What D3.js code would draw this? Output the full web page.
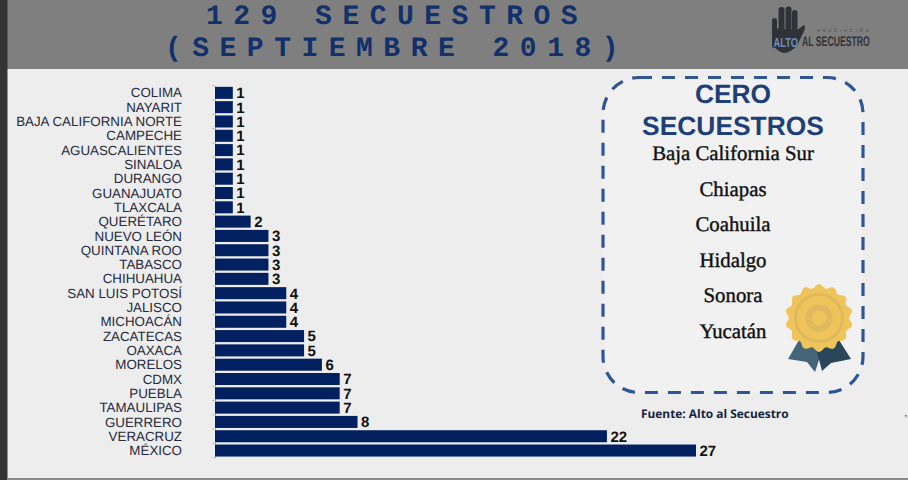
<!DOCTYPE html>
<html><head><meta charset="utf-8">
<script src="https://cdn.jsdelivr.net/npm/d3@7"></script>
<style>html,body{margin:0;padding:0;background:#ededed;overflow:hidden}svg{display:block}text{text-rendering:geometricPrecision}</style>
</head><body><svg id="c" width="908" height="480"></svg>
<script>
const estados = ["COLIMA","NAYARIT","BAJA CALIFORNIA NORTE","CAMPECHE","AGUASCALIENTES","SINALOA","DURANGO","GUANAJUATO","TLAXCALA","QUERÉTARO","NUEVO LEÓN","QUINTANA ROO","TABASCO","CHIHUAHUA","SAN LUIS POTOSÍ","JALISCO","MICHOACÁN","ZACATECAS","OAXACA","MORELOS","CDMX","PUEBLA","TAMAULIPAS","GUERRERO","VERACRUZ","MÉXICO"];
const secuestros = [1,1,1,1,1,1,1,1,1,2,3,3,3,3,4,4,4,5,5,6,7,7,7,8,22,27];
const ceroSecuestros = ["Baja California Sur","Chiapas","Coahuila","Hidalgo","Sonora","Yucatán"];
const titulo = ["129 SECUESTROS","(SEPTIEMBRE 2018)"];

const svg = d3.select("#c");
svg.append("rect").attr("width",908).attr("height",480).attr("fill","#ededed");
svg.append("rect").attr("x",0).attr("y",0).attr("width",908).attr("height",69).attr("fill","#7f7f7f");
svg.append("rect").attr("x",0).attr("y",0).attr("width",7.5).attr("height",480).attr("fill","#333333");
svg.append("rect").attr("x",7.5).attr("y",478).attr("width",901).attr("height",2).attr("fill","#8a8a8a");

// title
svg.selectAll("text.t").data(titulo).join("text").attr("class","t")
  .attr("x",397).attr("y",(d,i)=>i?56:24).attr("text-anchor","middle")
  .attr("font-family","'Liberation Mono','DejaVu Sans Mono',monospace").attr("font-weight",700)
  .attr("font-size",28).attr("letter-spacing",10.5).attr("fill","#12316b").text(d=>d);

// scales
const x = d3.scaleLinear().domain([0,27]).range([215,696]);
const band = d3.scaleBand().domain(estados).range([85.7,457.7]);
const y = d3.scaleBand().domain(estados).range([85.7,457.7]).paddingInner(0.16).paddingOuter(0.08);

// axis
const gAxis = svg.append("g").attr("transform","translate(215,0)")
  .call(d3.axisLeft(band).tickSize(0).tickPadding(0).tickFormat(""));
gAxis.select(".domain").attr("stroke","#b5b5b5").attr("stroke-width",1);
gAxis.selectAll("text").remove();
svg.append("g").selectAll("line").data(d3.range(estados.length+1)).join("line")
  .attr("x1",212).attr("x2",215).attr("y1",i=>band.range()[0]+i*band.step()).attr("y2",i=>band.range()[0]+i*band.step())
  .attr("stroke","#bdbdbd");

svg.append("g").selectAll("rect").data(estados).join("rect")
  .attr("x",x(0)).attr("y",d=>y(d)).attr("width",(d,i)=>x(secuestros[i])-x(0)).attr("height",y.bandwidth())
  .attr("fill","#002060");

svg.append("g").selectAll("text").data(estados).join("text")
  .attr("x",182).attr("y",d=>band(d)+band.bandwidth()/2+4.6).attr("text-anchor","end")
  .attr("font-family","'Liberation Sans',Arial,sans-serif").attr("font-size",13.35).attr("fill","#262a3f").text(d=>d);

svg.append("g").selectAll("text").data(estados).join("text")
  .attr("x",(d,i)=>x(secuestros[i])+3.5).attr("y",d=>band(d)+band.bandwidth()/2+5.4)
  .attr("font-family","'Liberation Sans',Arial,sans-serif").attr("font-weight",700).attr("font-size",15).attr("fill","#111")
  .text((d,i)=>secuestros[i]);

// box
svg.append("rect").attr("x",603).attr("y",77.5).attr("width",260).attr("height",315).attr("rx",36)
  .attr("fill","#f1f1f1").attr("stroke","#2f5597").attr("stroke-width",3.2).attr("stroke-dasharray","13 10");
svg.append("g").selectAll("text").data(["CERO","SECUESTROS"]).join("text")
  .attr("x",733).attr("y",(d,i)=>103+i*32).attr("text-anchor","middle")
  .attr("font-family","'Liberation Sans',Arial,sans-serif").attr("font-weight",700).attr("font-size",26.4).attr("fill","#1f3f78").text(d=>d);
svg.append("g").selectAll("text").data(ceroSecuestros).join("text")
  .attr("x",733).attr("y",(d,i)=>160+i*35.6).attr("text-anchor","middle")
  .attr("font-family","'Liberation Serif',serif").attr("font-weight",400).attr("stroke","#111").attr("stroke-width",0.4)
  .attr("font-size",20.8).attr("fill","#111").text(d=>d);

svg.append("text").attr("x",641).attr("y",418).attr("font-family","'Open Sans','Noto Sans',sans-serif")
  .attr("font-weight",700).attr("font-size",11.9).attr("fill","#14233f").text("Fuente: Alto al Secuestro");
svg.append("text").attr("x",904.5).attr("y",416).attr("font-family","'Liberation Sans',sans-serif").attr("font-size",11).attr("fill","#333").text("‚");

// medal
const m = svg.append("g").attr("transform","translate(819,318)");
m.append("path").attr("d","M-20,22 L-31,41 L-12,44 L-4,54 L4,30 Z").attr("fill","#466478");
m.append("path").attr("d","M20,22 L32,41 L12,45 L3,53 L-3,30 Z").attr("fill","#2b4559");
const pts = d3.range(0,360,3).map(a=>[a*Math.PI/180, 32+1.9*Math.cos(a*Math.PI/180*14)]);
m.append("path").attr("d",d3.lineRadial().curve(d3.curveCardinalClosed)(pts)).attr("fill","#efc55b");
m.append("circle").attr("r",23.5).attr("fill","none").attr("stroke","#e0b95e").attr("stroke-width",3);
m.append("circle").attr("r",10.5).attr("fill","none").attr("stroke","#e0b95e").attr("stroke-width",6.5);

// logo
const l = svg.append("g").attr("fill","#2f3338");
[[772,18,5,30],[778.5,7,6,35],[785.5,6.5,6,35],[792,10,5.5,32]].forEach(r=>l.append("rect").attr("x",r[0]).attr("y",r[1]).attr("width",r[2]).attr("height",r[3]).attr("rx",2.6));
l.append("path").attr("d","M772,28 L797,30 L804,25 Q806,27 804,31 L797,46 Q790,53 784,53 Q775,51 772,42 Z");
svg.append("text").attr("transform","translate(773.5,46.5) scale(0.72,1)").attr("font-family","'Liberation Sans',sans-serif").attr("font-weight",700)
  .attr("font-size",13).attr("fill","#6f8fb8").text("ALTO");
svg.append("text").attr("transform","translate(802,46) scale(0.62,1)").attr("font-family","'Liberation Sans',sans-serif").attr("font-weight",700)
  .attr("font-size",14).attr("fill","#2f3338").text("AL SECUESTRO");
svg.append("text").attr("x",817).attr("y",32).attr("font-family","'Liberation Sans',sans-serif")
  .attr("font-size",4.5).attr("letter-spacing",2.6).attr("fill","#4a4a4a").text("ASOCIACIÓN");
</script></body></html>
